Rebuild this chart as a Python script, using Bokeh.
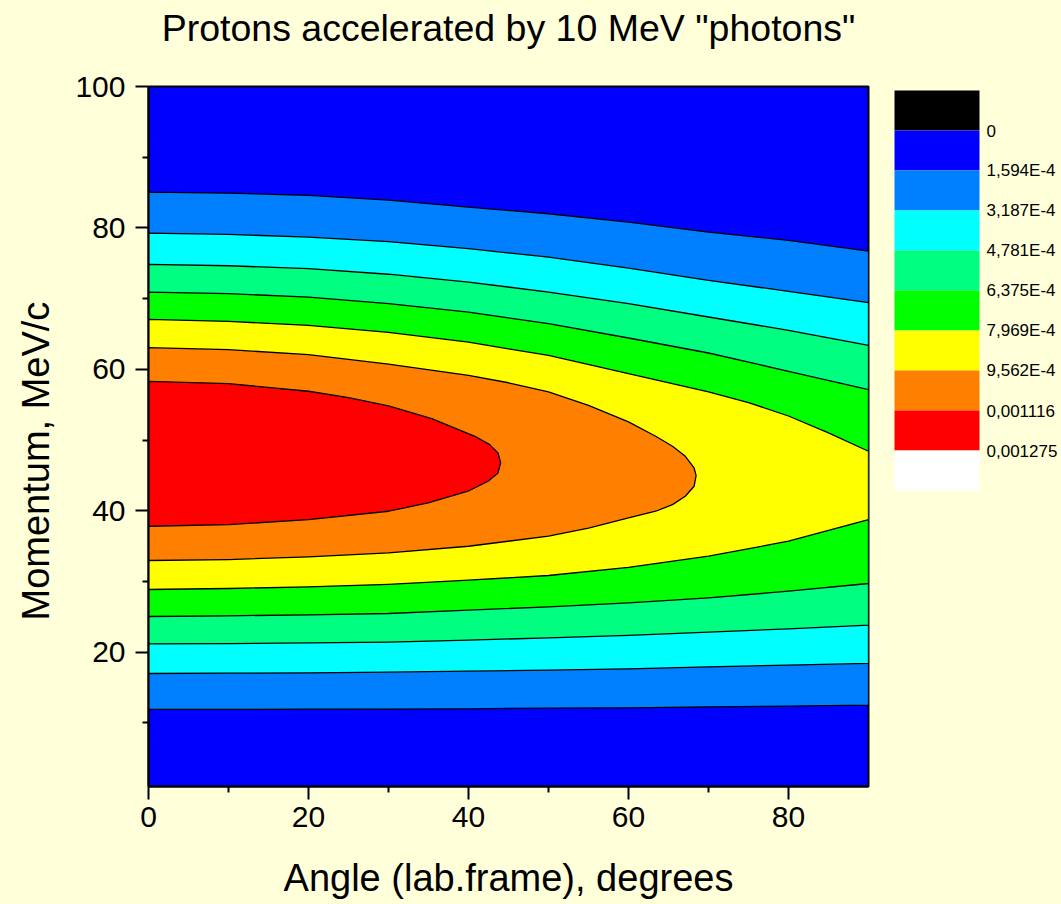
from bokeh.plotting import figure
from bokeh.models import Range1d, FixedTicker, Title
from bokeh.layouts import row
from bokeh.core.properties import value
from bokeh.embed import file_html
from bokeh.resources import INLINE

# ---------------- data ----------------
title_text = 'Protons accelerated by 10 MeV "photons"'
x_label = "Angle (lab.frame), degrees"
y_label = "Momentum, MeV/c"

x_ticks = [0, 20, 40, 60, 80]
x_minor = [10, 30, 50, 70]
y_ticks = [20, 40, 60, 80, 100]
y_minor = [10, 30, 50, 70, 90]

level_labels = ["0", "1,594E-4", "3,187E-4", "4,781E-4", "6,375E-4",
                "7,969E-4", "9,562E-4", "0,001116", "0,001275"]
band_colors = ["#000000", "#0000FF", "#0080FF", "#00FFFF", "#00FF80",
               "#00FF00", "#FFFF00", "#FF8000", "#FF0000", "#FFFFFF"]

# open contour lines (upper and lower branch, angle in degrees)
ang = [0, 10, 20, 30, 40, 50, 60, 70, 80, 90]
c1_upper = [85.06, 84.92, 84.59, 83.94, 82.94, 82.00, 80.82, 79.41, 78.23, 76.73]
c1_lower = [11.90, 11.90, 11.94, 11.95, 11.99, 12.09, 12.13, 12.27, 12.37, 12.51]
c2_upper = [79.27, 79.09, 78.70, 78.05, 77.06, 75.88, 74.32, 72.58, 71.03, 69.42]
c2_lower = [16.98, 17.03, 17.08, 17.17, 17.31, 17.46, 17.64, 17.93, 18.16, 18.40]
c3_upper = [74.84, 74.65, 74.23, 73.45, 72.34, 70.93, 69.28, 67.40, 65.51, 63.39]
c3_lower = [21.18, 21.22, 21.32, 21.41, 21.70, 22.03, 22.36, 22.83, 23.30, 23.82]
c4_upper = [70.93, 70.70, 70.22, 69.30, 68.10, 66.45, 64.43, 62.31, 59.72, 57.13]
c4_lower = [25.04, 25.14, 25.28, 25.47, 25.94, 26.41, 26.97, 27.68, 28.62, 29.71]
c5_upper_ang = [0, 10, 20, 30, 40, 45, 50, 60, 70, 75, 80, 85, 90]
c5_upper = [67.07, 66.78, 66.22, 65.23, 63.86, 62.90, 61.98, 59.39, 56.80, 55.30,
            53.40, 51.00, 48.41]
c5_lower = [28.86, 29.00, 29.24, 29.60, 30.18, 30.84, 32.00, 33.57, 35.69, 38.75]

# closed contour lines (outline traced along upper then lower branch)
c6_ang = [0, 10, 20, 30, 40, 45, 50, 55, 60, 63.4, 65.5, 67.1, 68.2, 68.45,
          68.2, 67.1, 65.5, 63.4, 60, 55, 50, 40, 30, 20, 10, 0]
c6_mom = [63.06, 62.78, 62.07, 60.75, 59.15, 58.10, 56.80, 54.90, 52.56, 50.53,
          49.12, 47.70, 46.05, 44.97, 43.46, 42.05, 40.87, 39.93, 38.99, 37.55,
          36.40, 34.98, 34.04, 33.47, 33.10, 32.96]
c7_ang = [0, 10, 20, 25, 30, 35.4, 40.8, 42.65, 43.69, 44.02,
          43.69, 42.44, 39.94, 34.95, 30, 20, 10, 0]
c7_mom = [58.30, 57.98, 56.90, 56.00, 54.82, 53.03, 50.53, 49.35, 48.17, 46.76,
          45.35, 44.17, 42.76, 41.11, 39.93, 38.75, 38.04, 37.81]

# ---------------- styling ----------------
BG = "#FFFFDA"
FONT = "Liberation Sans"

p = figure(width=880, height=904, output_backend="svg", toolbar_location=None,
           x_range=Range1d(0, 90), y_range=Range1d(1, 100),
           min_border_left=147, min_border_right=12, min_border_top=86,
           min_border_bottom=118)
p.background_fill_color = band_colors[1]
p.border_fill_color = BG
p.outline_line_color = "black"
p.outline_line_width = 2
p.xgrid.visible = False
p.ygrid.visible = False
p.title.text = ""

# spacer between frame and title, then the title itself
p.add_layout(Title(text=" ", text_font=FONT, text_font_size="30px", standoff=3), "above")
p.add_layout(Title(text=title_text, align="center", vertical_align="bottom", standoff=0,
                   text_font=FONT, text_font_size="37.5px", text_font_style="normal",
                   text_color="black"), "above")

# filled regions, painted from the outermost level inwards
polys = [
    (ang + ang[::-1], c1_upper + c1_lower[::-1], band_colors[2]),
    (ang + ang[::-1], c2_upper + c2_lower[::-1], band_colors[3]),
    (ang + ang[::-1], c3_upper + c3_lower[::-1], band_colors[4]),
    (ang + ang[::-1], c4_upper + c4_lower[::-1], band_colors[5]),
    (c5_upper_ang + ang[::-1], c5_upper + c5_lower[::-1], band_colors[6]),
    (c6_ang, c6_mom, band_colors[7]),
    (c7_ang, c7_mom, band_colors[8]),
]
for xs, ys, col in polys:
    p.patch(xs, ys, fill_color=col, line_color="black", line_width=1.3,
            line_join="round")

for ax, ticks, minor in ((p.xaxis[0], x_ticks, x_minor), (p.yaxis[0], y_ticks, y_minor)):
    ax.ticker = FixedTicker(ticks=ticks, minor_ticks=minor)
    ax.axis_line_color = "black"
    ax.axis_line_width = 2
    ax.major_tick_line_color = "black"
    ax.major_tick_line_width = 2
    ax.minor_tick_line_color = "black"
    ax.minor_tick_line_width = 2
    ax.major_tick_in = 0
    ax.major_tick_out = 13
    ax.minor_tick_in = 0
    ax.minor_tick_out = 6
    ax.major_label_text_font = FONT
    ax.major_label_text_font_size = "30px"
    ax.major_label_text_color = "black"
    ax.axis_label_text_font = FONT
    ax.axis_label_text_font_size = "38px"
    ax.axis_label_text_font_style = "normal"
    ax.axis_label_text_color = "black"

p.xaxis.axis_label = x_label
p.xaxis.major_label_standoff = 7
p.yaxis.major_label_standoff = 10
p.xaxis.axis_label_standoff = 27

# y-axis title as a side title so that it can be shifted along the axis
p.add_layout(Title(text=y_label, align="left", offset=166, vertical_align="top",
                   standoff=28, text_font=FONT, text_font_size="38px",
                   text_font_style="normal", text_color="black"), "left")

# ---------------- colour scale (frame is aligned with the main frame) ----------------
cb = figure(width=181, height=904, output_backend="svg", toolbar_location=None,
            x_range=Range1d(0, 181), y_range=Range1d(786, 86),
            min_border=0, min_border_left=0, min_border_right=0,
            min_border_top=86, min_border_bottom=118)
cb.axis.visible = False
cb.grid.visible = False
cb.outline_line_color = None
cb.background_fill_color = BG
cb.border_fill_color = BG

box_top0, box_h = 90, 40
tops = [box_top0 + box_h * i for i in range(len(band_colors))]
bottoms = [t + box_h for t in tops]
cb.quad(left=14, right=99, top=tops, bottom=bottoms, fill_color=band_colors,
        line_color=None)
cb.text(x=[106] * len(level_labels), y=bottoms[:len(level_labels)], text=level_labels,
        text_font=value(FONT), text_font_size="17px", text_baseline="middle",
        text_align="left", text_color="black")

layout = row(p, cb, styles={"background-color": BG})
open("out.html", "w").write(file_html(layout, INLINE))
